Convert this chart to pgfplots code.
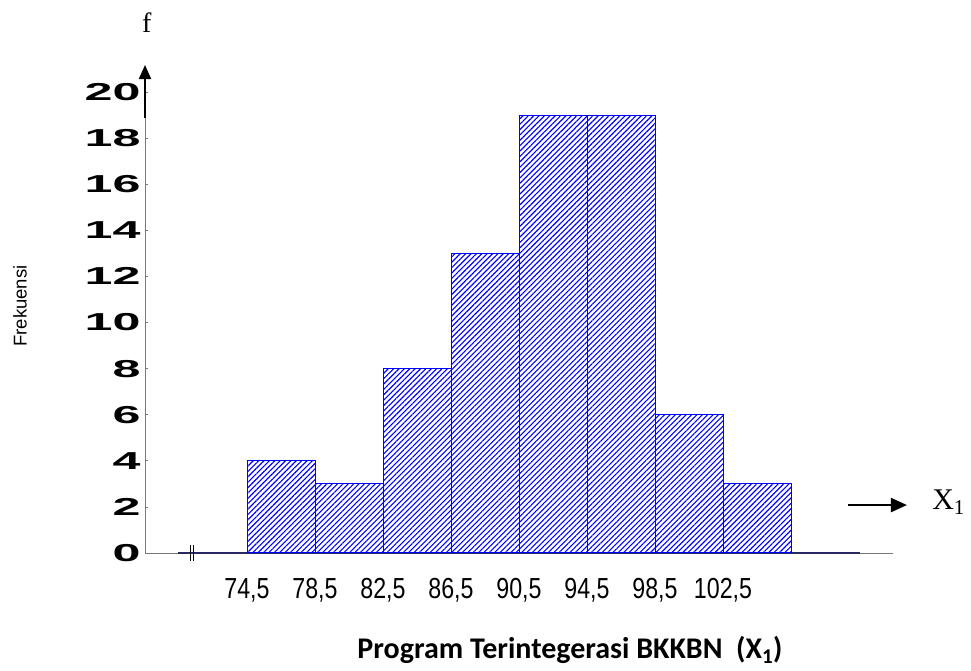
\documentclass[border=0pt]{standalone}
\usepackage{pgfplots}
\pgfplotsset{compat=1.18}
\usepackage{pgfplotstable}
\usepackage{fontspec}
\setmainfont{Liberation Sans}
\newfontfamily\serif{Liberation Serif}
\newfontfamily\calibri{Carlito}
\usetikzlibrary{patterns.meta,arrows.meta}

\definecolor{axisgray}{RGB}{120,120,120}
\definecolor{navy}{RGB}{40,40,100}

% class boundaries and frequencies (last row only closes the interval)
\pgfplotstableread{
x y
74.5 4
78.5 3
82.5 8
86.5 13
90.5 19
94.5 19
98.5 6
102.5 3
106.5 0
}\freq

\newcommand\ylab[1]{\scalebox{2.05}[1]{\bfseries #1}}
\newcommand\xlab[1]{\scalebox{0.8}[1]{#1}}

\begin{document}
\begin{tikzpicture}
\useasboundingbox (0,0) rectangle (971bp,671bp);
\begin{axis}[
  at={(145bp,118bp)}, anchor=south west,
  width=748bp, height=461bp, scale only axis,
  xmin=68.5, xmax=112.5, ymin=0, ymax=20,
  axis lines*=left,
  axis line style={axisgray, line width=0.8bp},
  tick align=inside, major tick length=3bp,
  tick style={axisgray, line width=0.6bp},
  ytick={0,2,4,6,8,10,12,14,16,18,20},
  yticklabels={\ylab{0},\ylab{2},\ylab{4},\ylab{6},\ylab{8},\ylab{10},\ylab{12},\ylab{14},\ylab{16},\ylab{18},\ylab{20}},
  yticklabel style={font=\fontsize{24.5bp}{25bp}\selectfont, xshift=-1bp},
  xtick={74.5,78.5,82.5,86.5,90.5,94.5,98.5,102.5},
  xticklabels={\xlab{74,5},\xlab{78,5},\xlab{82,5},\xlab{86,5},\xlab{90,5},\xlab{94,5},\xlab{98,5},\xlab{102,5}},
  x tick style={draw=none},
  extra x ticks={72.5,76.5,80.5,84.5,88.5,92.5,96.5,100.5,104.5,108.5,112.5},
  extra x tick labels={},
  extra x tick style={tick style={axisgray, line width=0.6bp}},
  xticklabel style={font=\fontsize{29bp}{30bp}\selectfont, yshift=-22bp},
  clip=false,
]
\draw[navy, line width=1.4bp] (axis cs:70.44,0) -- (axis cs:110.56,0);
\addplot[ybar interval, draw=blue, line width=1bp,
  pattern={Lines[angle=45,distance=3.8bp,line width=1.1bp]}, pattern color=blue]
  table[x=x, y=y] {\freq};
\draw[black, line width=1bp] (axis cs:71.15,-0.35) -- (axis cs:71.15,0.35);
\draw[black, line width=1bp] (axis cs:71.35,-0.35) -- (axis cs:71.35,0.35);
\draw[black, line width=2bp, -{Triangle[length=14bp,width=12bp]}] (axis cs:68.5,18.87) -- (axis cs:68.5,21.17);
\node[font=\serif\fontsize{28bp}{30bp}\selectfont] at (axis cs:68.6,23.0) {f};
\draw[black, line width=2.2bp, -{Triangle[length=16bp,width=14bp]}] (axis cs:109.85,2.08) -- (axis cs:113.32,2.08);
\node[anchor=west, inner sep=0pt, font=\serif\fontsize{30bp}{32bp}\selectfont] at (axis cs:114.8,2.2) {X\textsubscript{1}};
\end{axis}
\node[rotate=90, font=\fontsize{18.5bp}{20bp}\selectfont] at (20bp,365bp) {Frekuensi};
\node[font=\calibri\bfseries\fontsize{30bp}{32bp}\selectfont] at (570bp,21bp) {Program Terintegerasi BKKBN~~(X\textsubscript{1})};
\end{tikzpicture}
\end{document}
